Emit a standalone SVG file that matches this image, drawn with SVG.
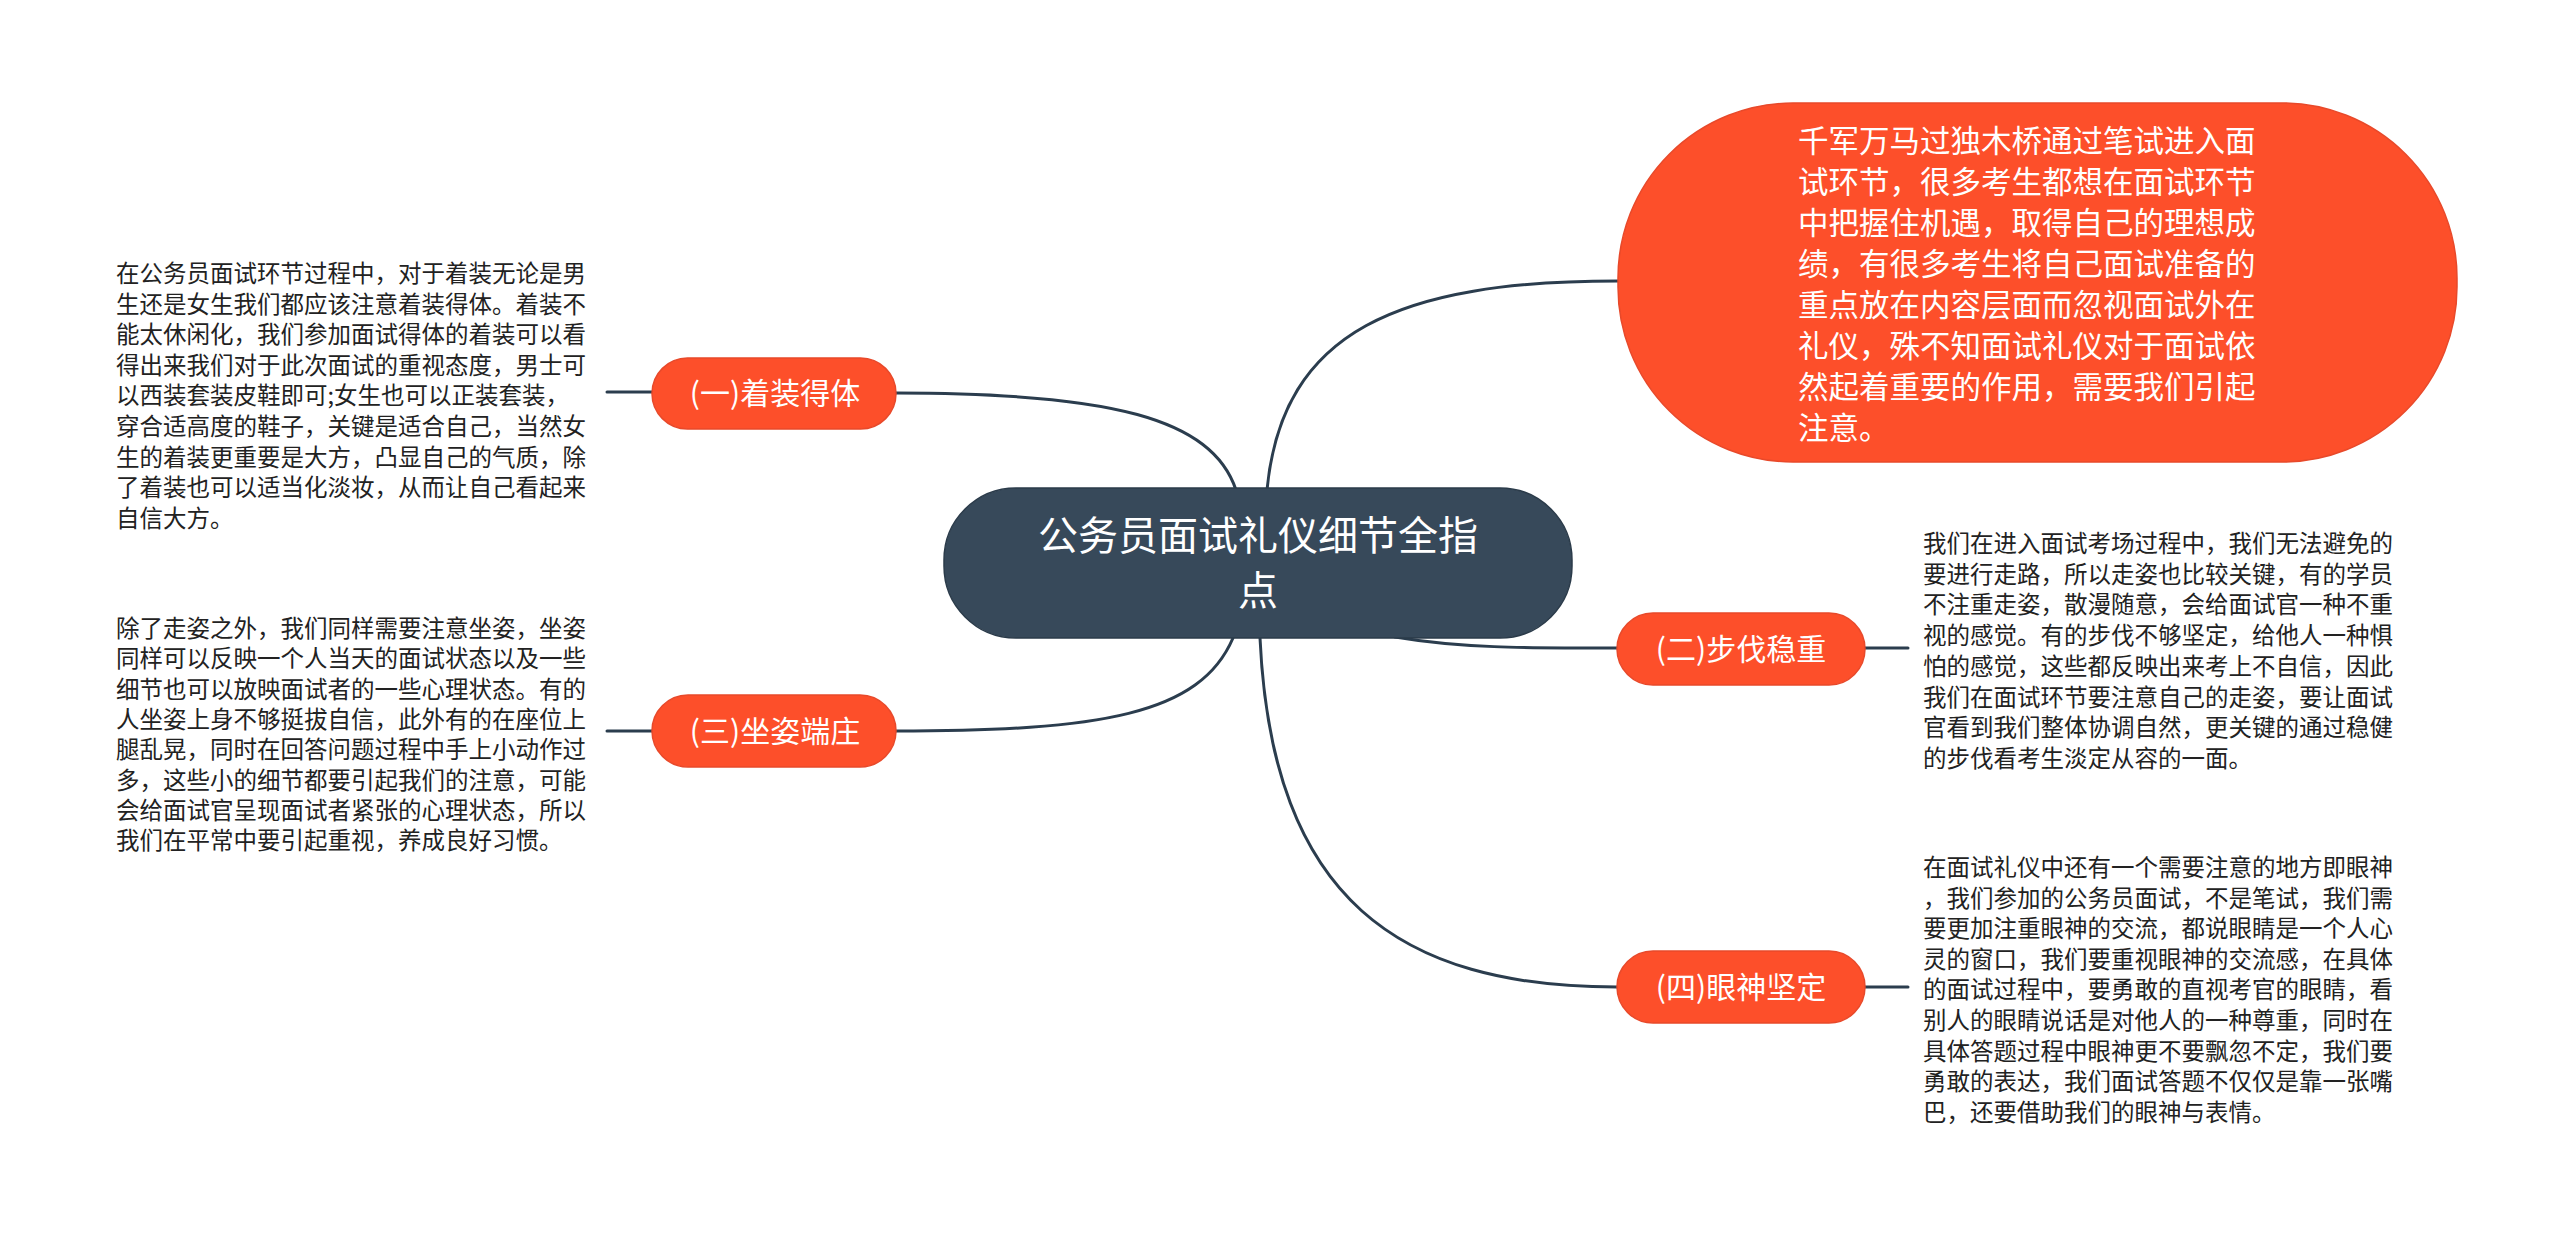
<svg xmlns="http://www.w3.org/2000/svg" width="2560" height="1241" viewBox="0 0 2560 1241">
<style>
.bg{fill:#ffffff}
.edge{fill:none;stroke:#2b3d4e;stroke-width:3;stroke-linecap:round}
.org{fill:#fd4f2a;stroke:#e8492a;stroke-width:1.5}
.root{fill:#37495a;stroke:#2b3b4a;stroke-width:1.5}
.t{font-family:"Noto Sans CJK SC","Microsoft YaHei",sans-serif}
.wt{fill:#ffffff}
.dk{fill:#222222;font-size:23.5px}
.lbl{font-size:30px;text-anchor:middle}
.big{font-size:30.5px}
.rt{font-size:40px;text-anchor:middle}
</style>
<rect class="bg" x="0" y="0" width="2560" height="1241"/>
<g id="connectors">
<path class="edge" d="M1236 490 C1212 418 1110 393 896 393"/>
<path class="edge" d="M1267 490 C1282 330 1400 281 1618 281"/>
<path class="edge" d="M1395 637 C1460 648 1520 648 1617 648"/>
<path class="edge" d="M1233 638 C1200 715 1100 731 896 731"/>
<path class="edge" d="M1260 638 C1272 900 1400 987 1617 987"/>
<path class="edge" d="M607 392 L652 392"/>
<path class="edge" d="M607 731 L652 731"/>
<path class="edge" d="M1865 648 L1908 648"/>
<path class="edge" d="M1865 987 L1908 987"/>
</g>
<g id="root">
<rect class="root" x="944" y="488" width="628" height="150" rx="72"/>
<text class="t wt rt"><tspan x="1258" y="550">公务员面试礼仪细节全指</tspan><tspan x="1258" y="605">点</tspan></text>
</g>
<g id="intro">
<rect class="org" x="1618" y="103" width="839" height="359" rx="175"/>
<text class="t wt big">
<tspan x="1798" y="152">千军万马过独木桥通过笔试进入面</tspan>
<tspan x="1798" y="193">试环节，很多考生都想在面试环节</tspan>
<tspan x="1798" y="234">中把握住机遇，取得自己的理想成</tspan>
<tspan x="1798" y="275">绩，有很多考生将自己面试准备的</tspan>
<tspan x="1798" y="316">重点放在内容层面而忽视面试外在</tspan>
<tspan x="1798" y="357">礼仪，殊不知面试礼仪对于面试依</tspan>
<tspan x="1798" y="398">然起着重要的作用，需要我们引起</tspan>
<tspan x="1798" y="439">注意。</tspan>
</text>
</g>
<g id="n1">
<rect class="org" x="652" y="358" width="244" height="71" rx="35.5"/>
<text class="t wt lbl" x="775" y="404">(一)着装得体</text>
</g>
<g id="n1-text">
<text class="t dk">
<tspan x="116" y="282">在公务员面试环节过程中，对于着装无论是男</tspan>
<tspan x="116" y="312.6">生还是女生我们都应该注意着装得体。着装不</tspan>
<tspan x="116" y="343.2">能太休闲化，我们参加面试得体的着装可以看</tspan>
<tspan x="116" y="373.8">得出来我们对于此次面试的重视态度，男士可</tspan>
<tspan x="116" y="404.4">以西装套装皮鞋即可;女生也可以正装套装，</tspan>
<tspan x="116" y="435">穿合适高度的鞋子，关键是适合自己，当然女</tspan>
<tspan x="116" y="465.6">生的着装更重要是大方，凸显自己的气质，除</tspan>
<tspan x="116" y="496.2">了着装也可以适当化淡妆，从而让自己看起来</tspan>
<tspan x="116" y="526.8">自信大方。</tspan>
</text>
</g>
<g id="n3">
<rect class="org" x="652" y="695" width="244" height="72" rx="36"/>
<text class="t wt lbl" x="775" y="742">(三)坐姿端庄</text>
</g>
<g id="n3-text">
<text class="t dk">
<tspan x="116" y="637">除了走姿之外，我们同样需要注意坐姿，坐姿</tspan>
<tspan x="116" y="667.3">同样可以反映一个人当天的面试状态以及一些</tspan>
<tspan x="116" y="697.6">细节也可以放映面试者的一些心理状态。有的</tspan>
<tspan x="116" y="727.9">人坐姿上身不够挺拔自信，此外有的在座位上</tspan>
<tspan x="116" y="758.2">腿乱晃，同时在回答问题过程中手上小动作过</tspan>
<tspan x="116" y="788.5">多，这些小的细节都要引起我们的注意，可能</tspan>
<tspan x="116" y="818.8">会给面试官呈现面试者紧张的心理状态，所以</tspan>
<tspan x="116" y="849.1">我们在平常中要引起重视，养成良好习惯。</tspan>
</text>
</g>
<g id="n2">
<rect class="org" x="1617" y="613" width="248" height="72" rx="36"/>
<text class="t wt lbl" x="1741" y="660">(二)步伐稳重</text>
</g>
<g id="n2-text">
<text class="t dk">
<tspan x="1923" y="552">我们在进入面试考场过程中，我们无法避免的</tspan>
<tspan x="1923" y="582.7">要进行走路，所以走姿也比较关键，有的学员</tspan>
<tspan x="1923" y="613.4">不注重走姿，散漫随意，会给面试官一种不重</tspan>
<tspan x="1923" y="644.1">视的感觉。有的步伐不够坚定，给他人一种惧</tspan>
<tspan x="1923" y="674.8">怕的感觉，这些都反映出来考上不自信，因此</tspan>
<tspan x="1923" y="705.5">我们在面试环节要注意自己的走姿，要让面试</tspan>
<tspan x="1923" y="736.2">官看到我们整体协调自然，更关键的通过稳健</tspan>
<tspan x="1923" y="766.9">的步伐看考生淡定从容的一面。</tspan>
</text>
</g>
<g id="n4">
<rect class="org" x="1617" y="951" width="248" height="72" rx="36"/>
<text class="t wt lbl" x="1741" y="998">(四)眼神坚定</text>
</g>
<g id="n4-text">
<text class="t dk">
<tspan x="1923" y="876">在面试礼仪中还有一个需要注意的地方即眼神</tspan>
<tspan x="1923" y="906.6">，我们参加的公务员面试，不是笔试，我们需</tspan>
<tspan x="1923" y="937.2">要更加注重眼神的交流，都说眼睛是一个人心</tspan>
<tspan x="1923" y="967.8">灵的窗口，我们要重视眼神的交流感，在具体</tspan>
<tspan x="1923" y="998.4">的面试过程中，要勇敢的直视考官的眼睛，看</tspan>
<tspan x="1923" y="1029">别人的眼睛说话是对他人的一种尊重，同时在</tspan>
<tspan x="1923" y="1059.6">具体答题过程中眼神更不要飘忽不定，我们要</tspan>
<tspan x="1923" y="1090.2">勇敢的表达，我们面试答题不仅仅是靠一张嘴</tspan>
<tspan x="1923" y="1120.8">巴，还要借助我们的眼神与表情。</tspan>
</text>
</g>
</svg>
